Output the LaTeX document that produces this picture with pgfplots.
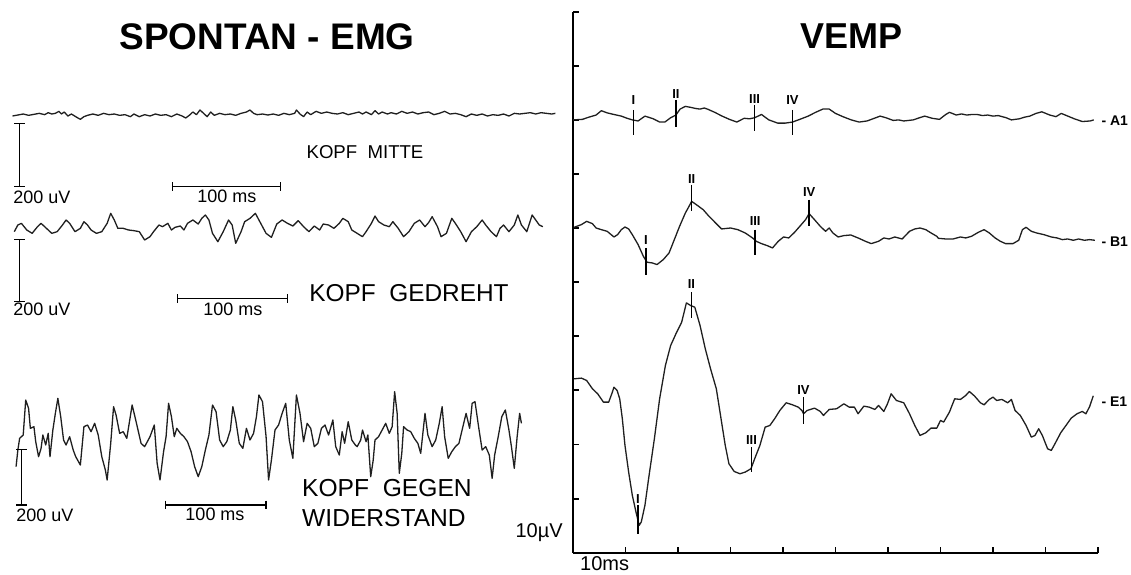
\documentclass[border=0pt]{standalone}
\usepackage{fontspec}
\setmainfont{Liberation Sans}
\usepackage{pgfplots}
\pgfplotsset{compat=1.18}
\definecolor{trace}{gray}{0.12}
\begin{document}
\begin{tikzpicture}
% ---------------- left panel: spontaneous EMG (hidden axis, drawing units) ----------------
\begin{axis}[name=L, at={(0,0)}, anchor=south west, scale only axis,
  width=565.5pt, height=287pt, xmin=0, xmax=3166.8, ymin=0, ymax=1722,
  y dir=reverse, hide axis, clip=false]
\path (axis cs:0,0) rectangle (axis cs:3166.8,1722);
\node[anchor=base, font=\bfseries\fontsize{18.5}{20}\selectfont] at (axis cs:748,147) {SPONTAN - EMG};
\node[anchor=base, font=\bfseries\fontsize{18}{20}\selectfont] at (axis cs:2383,145.5) {VEMP};
% trace 1: Kopf Mitte
\addplot[trace, line width=0.65pt, line join=round] coordinates {
(35,348)(50,345)(65,342)(80,346)(95,343)(110,340)(125,344)(135,338)(145,342)(155,340)(165,334)(172,342)(180,336)(190,348)(200,342)(215,352)(225,358)(235,350)(245,346)(260,342)(275,346)(290,340)(305,344)(320,342)(335,346)(350,344)(365,350)(375,342)(390,350)(405,344)(420,348)(435,342)(450,346)(465,344)(480,350)(495,342)(510,348)(520,354)(530,346)(540,336)(550,344)(560,330)(570,340)(580,350)(590,336)(600,346)(615,340)(630,344)(645,342)(660,346)(675,340)(690,336)(700,330)(710,340)(720,344)(735,342)(750,345)(765,342)(780,346)(795,340)(810,344)(825,340)(830,330)(840,342)(850,350)(860,336)(870,344)(885,334)(900,340)(915,336)(930,340)(945,342)(960,338)(975,344)(990,340)(1005,336)(1015,342)(1025,336)(1040,344)(1050,332)(1060,342)(1070,336)(1085,342)(1095,338)(1110,342)(1125,334)(1140,340)(1155,336)(1170,342)(1185,338)(1200,336)(1215,344)(1230,340)(1245,334)(1260,342)(1275,340)(1290,344)(1305,350)(1320,342)(1335,346)(1350,342)(1365,348)(1380,344)(1395,346)(1410,342)(1425,348)(1440,340)(1455,342)(1470,340)(1485,338)(1500,342)(1515,338)(1530,340)(1545,342)(1555,340)};
% trace 2: Kopf gedreht
\addplot[trace, line width=0.65pt, line join=round] coordinates {
(40,695)(50,675)(60,670)(75,690)(90,700)(105,680)(115,670)(130,685)(145,700)(160,695)(175,675)(185,660)(195,670)(210,695)(225,685)(235,665)(245,675)(255,690)(270,700)(285,695)(300,670)(310,640)(320,660)(330,685)(345,685)(360,690)(375,692)(390,695)(405,720)(420,710)(430,695)(445,675)(455,680)(470,670)(480,690)(490,682)(505,678)(515,690)(525,670)(540,660)(555,672)(565,655)(575,645)(585,660)(595,700)(610,725)(625,695)(640,660)(650,675)(660,730)(675,695)(685,665)(700,655)(715,640)(730,670)(745,700)(760,712)(775,672)(790,660)(805,670)(820,678)(835,662)(850,680)(865,695)(880,678)(895,690)(905,672)(920,675)(935,685)(950,670)(960,655)(975,665)(985,690)(1000,700)(1015,710)(1025,695)(1040,670)(1050,648)(1060,665)(1075,675)(1090,680)(1100,665)(1115,685)(1130,710)(1145,695)(1160,670)(1175,660)(1190,680)(1200,668)(1210,650)(1225,680)(1235,710)(1250,700)(1265,655)(1275,670)(1290,695)(1305,725)(1320,695)(1335,680)(1350,660)(1360,675)(1375,695)(1390,710)(1400,685)(1410,675)(1425,695)(1440,675)(1450,645)(1460,675)(1475,695)(1490,645)(1500,660)(1510,675)(1520,680)};
% trace 3: Kopf gegen Widerstand
\addplot[trace, line width=0.65pt, line join=round] coordinates {
(45,1400)(50,1350)(55,1315)(65,1305)(72,1200)(80,1225)(85,1285)(95,1280)(100,1325)(108,1370)(115,1345)(120,1305)(128,1335)(135,1300)(140,1370)(148,1290)(155,1240)(162,1195)(170,1250)(178,1320)(185,1335)(195,1310)(205,1350)(212,1370)(225,1395)(235,1280)(245,1275)(255,1295)(265,1270)(275,1305)(285,1370)(295,1410)(300,1440)(310,1330)(318,1220)(325,1245)(335,1300)(345,1295)(355,1315)(370,1215)(380,1260)(395,1330)(405,1340)(420,1310)(432,1275)(440,1390)(448,1440)(458,1355)(465,1310)(472,1210)(480,1250)(488,1310)(495,1285)(505,1300)(515,1310)(525,1325)(535,1355)(545,1400)(555,1430)(565,1400)(575,1350)(585,1305)(595,1215)(605,1235)(615,1320)(625,1340)(635,1325)(645,1290)(652,1220)(660,1260)(670,1330)(680,1345)(690,1285)(700,1320)(710,1300)(718,1250)(725,1185)(735,1205)(745,1310)(752,1440)(760,1380)(770,1290)(780,1275)(790,1240)(800,1210)(810,1320)(820,1375)(830,1185)(840,1240)(850,1325)(860,1270)(870,1285)(880,1340)(890,1330)(900,1285)(910,1275)(920,1305)(932,1260)(940,1340)(950,1365)(958,1295)(965,1330)(975,1265)(985,1320)(995,1335)(1000,1340)(1010,1320)(1015,1290)(1025,1325)(1030,1305)(1038,1430)(1045,1380)(1050,1320)(1060,1310)(1070,1290)(1080,1270)(1090,1300)(1098,1280)(1105,1175)(1112,1240)(1118,1420)(1125,1360)(1130,1280)(1140,1290)(1150,1295)(1160,1315)(1170,1330)(1178,1360)(1185,1290)(1190,1240)(1198,1305)(1210,1340)(1220,1320)(1230,1270)(1238,1220)(1245,1310)(1255,1375)(1265,1355)(1275,1340)(1285,1330)(1295,1285)(1305,1240)(1315,1285)(1322,1210)(1330,1205)(1340,1280)(1350,1350)(1360,1340)(1370,1365)(1378,1435)(1385,1365)(1395,1310)(1405,1250)(1415,1230)(1425,1290)(1432,1340)(1440,1405)(1448,1310)(1455,1240)(1460,1270)};
% scale bars
\addplot[black, line width=0.8pt] coordinates {(55,370)(55,560)};
\addplot[black, line width=0.8pt] coordinates {(40,370)(70,370)};
\addplot[black, line width=0.8pt] coordinates {(40,560)(70,560)};
\addplot[black, line width=0.8pt] coordinates {(483,560)(785,560)};
\addplot[black, line width=0.8pt] coordinates {(483,547)(483,573)};
\addplot[black, line width=0.8pt] coordinates {(785,547)(785,573)};
\addplot[black, line width=0.8pt] coordinates {(55,718)(55,905)};
\addplot[black, line width=0.8pt] coordinates {(40,718)(70,718)};
\addplot[black, line width=0.8pt] coordinates {(40,905)(70,905)};
\addplot[black, line width=0.8pt] coordinates {(497,895)(805,895)};
\addplot[black, line width=0.8pt] coordinates {(497,882)(497,908)};
\addplot[black, line width=0.8pt] coordinates {(805,882)(805,908)};
\addplot[black, line width=0.8pt] coordinates {(60,1348)(60,1515)};
\addplot[black, line width=0.8pt] coordinates {(45,1348)(75,1348)};
\addplot[black, line width=0.8pt] coordinates {(45,1515)(75,1515)};
\addplot[black, line width=0.8pt] coordinates {(463,1515)(745,1515)};
\addplot[black, line width=0.8pt] coordinates {(463,1502)(463,1528)};
\addplot[black, line width=0.8pt] coordinates {(745,1502)(745,1528)};
% labels
\begin{scope}[every node/.style={font=\fontsize{9}{10}\selectfont, inner sep=0pt}]
\node[anchor=west] at (axis cs:36,591) {200 uV};
\node at (axis cs:635,590) {100 ms};
\node[anchor=west] at (axis cs:36,928) {200 uV};
\node at (axis cs:652,928) {100 ms};
\node[anchor=west] at (axis cs:45,1546) {200 uV};
\node at (axis cs:602,1543) {100 ms};
\end{scope}
\node[inner sep=0pt, font=\fontsize{9.3}{11}\selectfont] at (axis cs:1022,457) {KOPF\ \ MITTE};
\node[inner sep=0pt, font=\fontsize{12.2}{14}\selectfont] at (axis cs:1145,880) {KOPF\ \ GEDREHT};
\node[inner sep=0pt, anchor=west, font=\fontsize{12.3}{14}\selectfont] at (axis cs:845,1465) {KOPF\ \ GEGEN};
\node[inner sep=0pt, anchor=west, font=\fontsize{12.3}{14}\selectfont] at (axis cs:845,1553) {WIDERSTAND};
\end{axis}
% ---------------- right panel: VEMP ----------------
\begin{axis}[at={(286.5pt,10.65pt)}, anchor=south west, scale only axis,
  width=262.5pt, height=270.5pt, xmin=0, xmax=100, ymin=0, ymax=10,
  axis x line*=bottom, axis y line*=left,
  axis line style={-, line width=1pt, black},
  xtick={10,20,...,100}, ytick={1,2,...,10},
  xticklabels={}, yticklabels={},
  tick align=inside, major tick length=3pt,
  tick style={line width=0.9pt, black},
  clip=false]
% A1
\addplot[trace, line width=0.65pt, line join=round] coordinates {
(0,8.0)(1.8,8.01)(3.0,8.05)(4.4,8.09)(5.4,8.17)(6.5,8.13)(7.8,8.10)(9.2,8.07)(10.3,8.03)(11.3,8.0)(12.4,7.98)(13.7,8.07)(15.3,8.02)(16.5,7.96)(17.5,7.96)(18.6,8.04)(19.6,8.09)(20.4,8.2)(21.4,8.25)(22.5,8.23)(23.4,8.21)(24.2,8.2)(25.0,8.22)(25.6,8.2)(27.0,8.14)(28.4,8.07)(29.8,8.01)(31.2,7.96)(32.6,8.03)(33.6,8.02)(34.6,8.04)(35.9,8.1)(37.3,8.0)(39.0,7.94)(40.4,7.94)(41.8,7.96)(43.2,8.01)(44.8,8.07)(46.2,8.14)(47.6,8.2)(48.8,8.2)(50.0,8.12)(51.4,8.06)(53.0,8.0)(54.5,7.96)(56.0,7.98)(57.4,8.03)(58.5,8.07)(59.6,8.04)(61.0,7.99)(62.0,8.0)(63.0,7.98)(64.8,8.0)(66.0,8.04)(67.0,8.07)(68.4,8.03)(69.8,8.01)(71.0,8.1)(71.7,8.14)(73.0,8.09)(74.0,8.11)(75.0,8.09)(76.0,8.1)(77.0,8.1)(78.0,8.08)(79.0,8.09)(80.0,8.07)(81.0,8.08)(82.5,8.04)(83.5,8.0)(85.0,8.02)(86.0,8.05)(87.0,8.07)(88.2,8.12)(89.3,8.15)(90.8,8.09)(92.0,8.06)(93.0,8.12)(94.0,8.08)(95.5,8.02)(97.0,7.97)(98.5,7.98)(99.2,8.0)};
% B1
\addplot[trace, line width=0.65pt, line join=round] coordinates {
(0.2,6.015)(1.6,6.064)(2.6,6.125)(3.7,6.082)(4.4,6.002)(5.4,5.971)(6.5,5.941)(7.8,5.836)(8.5,5.879)(9.2,5.971)(9.9,6.02)(10.6,5.984)(11.3,5.879)(12.4,5.695)(13.4,5.479)(14.1,5.369)(15.1,5.356)(16.0,5.326)(17.2,5.418)(18.3,5.541)(19.3,5.787)(20.3,6.033)(21.4,6.279)(22.1,6.402)(22.6,6.494)(23.5,6.433)(24.8,6.340)(25.9,6.218)(27.3,6.082)(28.3,5.984)(30.0,6.002)(31.4,5.971)(32.8,5.910)(34.2,5.818)(34.9,5.756)(35.9,5.713)(37.0,5.676)(38.0,5.633)(39.1,5.756)(40.1,5.836)(41.1,5.818)(42.2,5.922)(43.2,6.033)(44.3,6.156)(44.97,6.267)(46.0,6.156)(47.1,6.033)(48.1,5.941)(48.8,6.002)(49.5,5.910)(50.5,5.836)(51.6,5.861)(52.9,5.873)(54.3,5.818)(55.7,5.756)(56.8,5.713)(58.2,5.756)(59.2,5.818)(60.2,5.799)(61.3,5.836)(62.7,5.799)(64.1,5.941)(65.1,5.984)(66.1,6.002)(67.2,5.971)(68.2,5.910)(69.3,5.848)(69.6,5.811)(71.0,5.799)(72.4,5.799)(73.8,5.836)(74.8,5.818)(75.9,5.848)(77.2,5.922)(78.3,5.971)(79.3,5.910)(80.4,5.818)(81.4,5.756)(82.4,5.713)(83.8,5.713)(84.9,5.775)(85.6,5.971)(86.3,6.015)(87.3,5.941)(88.3,5.910)(89.7,5.879)(91.1,5.836)(92.2,5.818)(93.2,5.787)(94.2,5.799)(95.3,5.775)(96.3,5.799)(97.4,5.775)(98.4,5.787)(99.4,5.775)};
% E1
\addplot[trace, line width=0.65pt, line join=round] coordinates {
(0.2,3.214)(1.6,3.227)(2.6,3.183)(3.7,3.030)(4.7,2.937)(5.8,2.783)(6.8,2.783)(7.5,2.968)(7.8,3.060)(8.4,2.999)(8.9,2.845)(9.4,2.475)(9.9,1.983)(10.6,1.490)(11.3,1.059)(12.0,0.751)(12.6,0.505)(13.0,0.567)(13.7,0.874)(14.4,1.367)(15.5,2.106)(16.5,2.845)(17.6,3.461)(18.6,3.830)(19.6,4.045)(20.7,4.261)(21.6,4.618)(22.4,4.569)(23.2,4.538)(24.2,4.199)(25.2,3.768)(26.2,3.399)(27.3,3.030)(28.3,2.414)(29.0,1.983)(29.7,1.644)(30.7,1.502)(31.8,1.459)(32.8,1.490)(33.9,1.552)(34.6,1.736)(35.6,1.983)(36.6,2.321)(37.5,2.352)(38.4,2.475)(39.4,2.629)(40.6,2.771)(41.8,2.734)(42.9,2.691)(43.6,2.629)(43.9,2.568)(44.6,2.629)(46.0,2.672)(47.1,2.611)(47.7,2.537)(48.8,2.648)(50.2,2.660)(51.6,2.752)(52.6,2.691)(53.6,2.691)(54.3,2.568)(55.4,2.709)(56.4,2.691)(57.5,2.648)(58.2,2.722)(59.2,2.611)(59.9,2.752)(60.6,2.937)(61.6,2.814)(63.0,2.771)(64.1,2.568)(65.1,2.352)(66.1,2.167)(67.2,2.217)(68.2,2.303)(69.3,2.303)(70.0,2.445)(70.6,2.414)(71.7,2.599)(72.7,2.845)(73.8,2.833)(74.8,2.906)(75.5,2.980)(76.5,2.894)(77.6,2.771)(78.3,2.734)(79.3,2.833)(80.0,2.876)(80.7,2.814)(81.7,2.833)(82.8,2.771)(83.5,2.833)(84.2,2.629)(85.2,2.537)(86.3,2.352)(87.3,2.137)(88.0,2.167)(88.7,2.291)(89.4,2.167)(90.4,1.921)(91.1,1.890)(91.8,2.014)(92.9,2.217)(93.9,2.352)(94.9,2.488)(96.0,2.568)(97.0,2.611)(97.7,2.568)(98.4,2.700)(99.1,2.900)};
% peak markers
\addplot[black, line width=0.8pt] coordinates {(11.5,8.185)(11.5,7.724)};
\addplot[black, line width=0.8pt] coordinates {(19.6,8.370)(19.6,7.866)};
\addplot[black, line width=0.8pt] coordinates {(34.6,8.278)(34.6,7.804)};
\addplot[black, line width=0.8pt] coordinates {(41.8,8.185)(41.8,7.724)};
\addplot[black, line width=0.8pt] coordinates {(13.9,5.633)(13.9,5.141)};
\addplot[black, line width=0.8pt] coordinates {(22.6,6.802)(22.6,6.310)};
\addplot[black, line width=0.8pt] coordinates {(34.7,5.971)(34.7,5.510)};
\addplot[black, line width=0.8pt] coordinates {(45.0,6.525)(45.0,6.033)};
\addplot[black, line width=0.8pt] coordinates {(12.35,0.874)(12.35,0.351)};
\addplot[black, line width=0.8pt] coordinates {(22.55,4.815)(22.55,4.335)};
\addplot[black, line width=0.8pt] coordinates {(34.0,1.952)(34.0,1.490)};
\addplot[black, line width=0.8pt] coordinates {(43.9,2.876)(43.9,2.383)};
\begin{scope}[every node/.style={font=\bfseries\fontsize{6.5}{7}\selectfont, inner sep=0pt}]
\node at (axis cs:11.5,8.37) {I};
\node at (axis cs:19.6,8.475) {II};
\node at (axis cs:34.6,8.395) {III};
\node at (axis cs:41.8,8.37) {IV};
\node at (axis cs:13.9,5.787) {I};
\node at (axis cs:22.6,6.906) {II};
\node at (axis cs:34.7,6.125) {III};
\node at (axis cs:45.0,6.66) {IV};
\node at (axis cs:12.35,0.985) {I};
\node at (axis cs:22.55,4.969) {II};
\node at (axis cs:34.0,2.075) {III};
\node at (axis cs:43.9,2.999) {IV};
\end{scope}
\begin{scope}[every node/.style={font=\bfseries\fontsize{7}{8}\selectfont, inner sep=0pt, anchor=west}]
\node at (axis cs:100.6,7.985) {- A1};
\node at (axis cs:100.6,5.75) {- B1};
\node at (axis cs:100.6,2.79) {- E1};
\end{scope}
\node[anchor=east, inner sep=0pt, font=\fontsize{10}{12}\selectfont] at (axis cs:-1.9,0.38) {10µV};
\node[anchor=west, inner sep=0pt, font=\fontsize{10}{12}\selectfont] at (axis cs:1.3,-0.2) {10ms};
\end{axis}
\end{tikzpicture}
\end{document}
